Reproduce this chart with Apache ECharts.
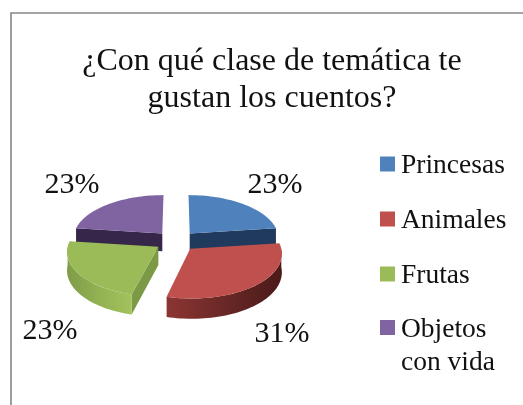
<!DOCTYPE html>
<html><head><meta charset="utf-8">
<style>html,body{margin:0;padding:0;background:#fff}#c{width:523px;height:405px}</style>
<script src="https://cdn.jsdelivr.net/npm/echarts@6/dist/echarts.min.js"></script>
</head><body><div id="c"></div>
<script>
const categories = ['Princesas', 'Animales', 'Frutas', 'Objetos con vida'];
const percentLabels = [23, 31, 23, 23];
const values = [23, 31, 23, 23];
const titleText = '¿Con qué clase de temática te\ngustan los cuentos?';

const topColors = ['#4f81bd', '#c0504d', '#9bbb59', '#8064a2'];
const cutColors = ['#1f3a5c', '#5e2624', '#7c9a46', '#35264a'];
const wallColors = [
  ['#2c4d75', '#2c4d75'],
  ['#8c3533', '#6a2826', '#4a1a19'],
  ['#7f9c49', '#92b253', '#a3c25d'],
  ['#3f2f55', '#3f2f55']
];
const drawOrder = [3, 0, 2, 1];
const labelAnchors = [[275, 185], [282, 334], [50, 331], [72, 185]];

const geo = { cx: 176, cy: 241, rx: 89.6, ry: 43.4, persp: 0.0955, explode: 0.235, depth: 18 };
const total = values.reduce((a, b) => a + b, 0);
const rad = d => d * Math.PI / 180;

function project(X, Y, z) {
  const w = 1 / (1 - geo.persp * Y);
  return [geo.cx + geo.rx * X * w, geo.cy + geo.ry * Y * w + z * geo.depth * w];
}

function sliceRender(index) {
  return function (params, api) {
    const val = api.value(0);
    let before = 0;
    for (let i = 0; i < index; i++) before += values[i];
    const a0 = before / total * 360, a1 = (before + val) / total * 360;
    const mid = rad((a0 + a1) / 2);
    const ex = Math.sin(mid) * geo.explode, ey = -Math.cos(mid) * geo.explode;
    const pt = (deg, r, z) => project(ex + r * Math.sin(rad(deg)), ey - r * Math.cos(rad(deg)), z);
    const arc = (from, to, z) => {
      const out = [], n = Math.max(2, Math.ceil(Math.abs(to - from) / 2));
      for (let i = 0; i <= n; i++) out.push(pt(from + (to - from) * i / n, 1, z));
      return out;
    };
    const children = [];
    const addCut = deg => {
      children.push({ type: 'polygon',
        shape: { points: [pt(deg, 0, 0), pt(deg, 1, 0), pt(deg, 1, 1), pt(deg, 0, 1)] },
        style: { fill: cutColors[index] } });
    };
    if (Math.cos(rad(a0 - 90)) < -1e-6) addCut(a0);
    if (Math.cos(rad(a1 + 90)) < -1e-6) addCut(a1);
    const w0 = Math.max(a0, 90), w1 = Math.min(a1, 270);
    if (w1 > w0) {
      const stops = wallColors[index];
      children.push({ type: 'polygon',
        shape: { points: arc(w0, w1, 0).concat(arc(w1, w0, 1)) },
        style: { fill: new echarts.graphic.LinearGradient(0, 0, 1, 0,
          stops.map((c, i) => ({ offset: i / (stops.length - 1), color: c }))) } });
    }
    children.push({ type: 'polygon',
      shape: { points: [pt(a0, 0, 0)].concat(arc(a0, a1, 0)) },
      style: { fill: topColors[index] } });
    children.push({ type: 'text',
      style: { text: percentLabels[index] + '%', x: labelAnchors[index][0], y: labelAnchors[index][1],
        align: 'center', verticalAlign: 'middle',
        font: '30px "Liberation Serif"', fill: '#111' } });
    return { type: 'group', children };
  };
}

const legendFont = { fontFamily: 'Liberation Serif', fontSize: 27.5, color: '#111', padding: [0, 0, 0, 1] };
const legendIcon = 'path://M0,0L15,0L15,15L0,15Z M0,19L0,19';
const option = {
  animation: false,
  backgroundColor: '#fff',
  title: {
    text: titleText, left: 267, top: 38, textAlign: 'center',
    textStyle: { fontFamily: 'Liberation Serif', fontSize: 32, fontWeight: 'normal', color: '#111', lineHeight: 37 }
  },
  legend: [
    { data: categories.slice(0, 3), orient: 'vertical', left: 380, top: 152, padding: 0, icon: legendIcon,
      itemWidth: 15, itemHeight: 19, itemGap: 27, itemStyle: { borderWidth: 0 },
      textStyle: legendFont, selectedMode: false },
    { data: categories.slice(3), orient: 'vertical', left: 380, top: 280, padding: 0, icon: legendIcon,
      itemWidth: 15, itemHeight: 19, itemStyle: { borderWidth: 0 },
      formatter: () => '\nObjetos\ncon vida',
      textStyle: Object.assign({ lineHeight: 33 }, legendFont), selectedMode: false }
  ],
  graphic: [{
    type: 'polyline', silent: true,
    shape: { points: [[11, 405], [11, 13], [523, 13]] },
    style: { fill: null, stroke: '#868686', lineWidth: 1.6 }
  }],
  series: categories.map((name, i) => ({
    type: 'custom', name, coordinateSystem: 'none',
    z: 2 + drawOrder.indexOf(i),
    itemStyle: { color: topColors[i] },
    renderItem: sliceRender(i),
    data: [[values[i]]],
    silent: true
  }))
};
echarts.init(document.getElementById('c'), null, { renderer: 'canvas' }).setOption(option);
</script></body></html>
